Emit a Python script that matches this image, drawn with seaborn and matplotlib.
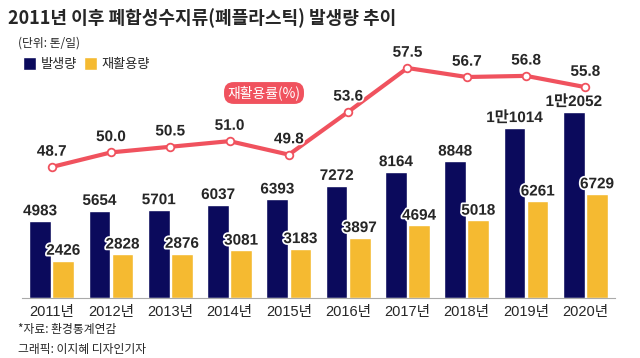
import numpy as np
import pandas as pd
import seaborn as sns
import matplotlib.pyplot as plt
import matplotlib.patheffects as pe

# data (tons per day, recycling rate %)
years = ["2011년", "2012년", "2013년", "2014년", "2015년", "2016년", "2017년", "2018년", "2019년", "2020년"]
generated = [4983, 5654, 5701, 6037, 6393, 7272, 8164, 8848, 11014, 12052]
recycled = [2426, 2828, 2876, 3081, 3183, 3897, 4694, 5018, 6261, 6729]
rate = [48.7, 50.0, 50.5, 51.0, 49.8, 53.6, 57.5, 56.7, 56.8, 55.8]

navy = "#0b0a5c"
yellow = "#f5ba31"
red = "#f0525e"

sns.set_theme(style="white")
plt.rcParams["font.family"] = ["Noto Sans CJK KR", "DejaVu Sans"]
num_font = ["Liberation Sans", "Noto Sans CJK KR"]

df = pd.DataFrame({
    "year": years * 2,
    "value": generated + recycled,
    "kind": ["발생량"] * len(years) + ["재활용량"] * len(years),
})

fig = plt.figure(figsize=(6.4, 3.58), dpi=100)
ax = fig.add_axes([22 / 640, 1 - 298 / 358, 593 / 640, 248 / 358])

sns.barplot(data=df, x="year", y="value", hue="kind", palette=[navy, yellow],
            saturation=1, width=0.78, gap=0.06, ax=ax)
ax.set_ylim(0, 16052)
ax.set_xlim(-0.5, len(years) - 0.5)
ax.set_xlabel("")
ax.set_ylabel("")
ax.set_yticks([])
for s in ["top", "right", "left"]:
    ax.spines[s].set_visible(False)
ax.spines["bottom"].set_color("#aaaaaa")
ax.spines["bottom"].set_linewidth(0.8)
ax.tick_params(axis="x", which="major", length=0, pad=5)
ax.set_xticks(np.arange(-0.5, len(years)), minor=True)
ax.tick_params(axis="x", which="minor", length=4, direction="inout", color="#aaaaaa", width=0.8)
for t in ax.get_xticklabels():
    t.set_fontfamily(num_font)
    t.set_fontsize(10.5)

def fmt(v):
    if v >= 10000:
        return f"{v // 10000}만{v % 10000:04d}"
    return str(v)

stroke = [pe.withStroke(linewidth=2.5, foreground="white")]
for cont, vals in zip(ax.containers, [generated, recycled]):
    ax.bar_label(cont, labels=[fmt(v) for v in vals], padding=2, fontsize=11,
                 fontweight="bold", family=num_font, path_effects=stroke)

# legend at the top left
handles, labels = ax.get_legend_handles_labels()
ax.legend(handles, labels, loc="center left", bbox_to_anchor=(18 / 640, 1 - 64 / 358),
          bbox_transform=fig.transFigure, ncol=2, frameon=False, fontsize=9.5,
          handlelength=1.0, handleheight=1.2, handletextpad=0.35, columnspacing=0.5,
          borderaxespad=0)

# recycling rate line
ax2 = ax.twinx()
sns.lineplot(x=np.arange(len(years)), y=rate, color=red, linewidth=3, marker="o",
             markersize=5.5, markerfacecolor="white", markeredgecolor=red,
             markeredgewidth=1.3, ax=ax2)
ax2.set_ylim(37.06, 59.1)
ax2.set_yticks([])
for s in ["top", "right", "left", "bottom"]:
    ax2.spines[s].set_visible(False)
for i, r in enumerate(rate):
    ax2.annotate(f"{r:.1f}", (i, r), xytext=(0, 6), textcoords="offset points",
                 ha="center", va="bottom", fontsize=11, fontweight="bold",
                 family=num_font, path_effects=stroke)

# badge for the line
fig.text(264 / 640, 1 - 93 / 358, "재활용률(%)", color="white", fontsize=10,
         ha="center", va="center",
         bbox=dict(boxstyle="round,pad=0.25,rounding_size=0.7", facecolor=red, edgecolor="none"))

# titles and notes
fig.text(8 / 640, 1 - 18 / 358, "2011년 이후 폐합성수지류(폐플라스틱) 발생량 추이",
         fontsize=13, fontweight="bold", ha="left", va="center")
fig.text(18 / 640, 1 - 43 / 358, "(단위: 톤/일)", fontsize=8.5, ha="left", va="center")
fig.text(18 / 640, 1 - 329 / 358, "*자료: 환경통계연감", fontsize=8.5, ha="left", va="center")
fig.text(18 / 640, 1 - 350 / 358, "그래픽: 이지혜 디자인기자", fontsize=8.5, ha="left", va="center")

fig.savefig("out.png", dpi=100)
